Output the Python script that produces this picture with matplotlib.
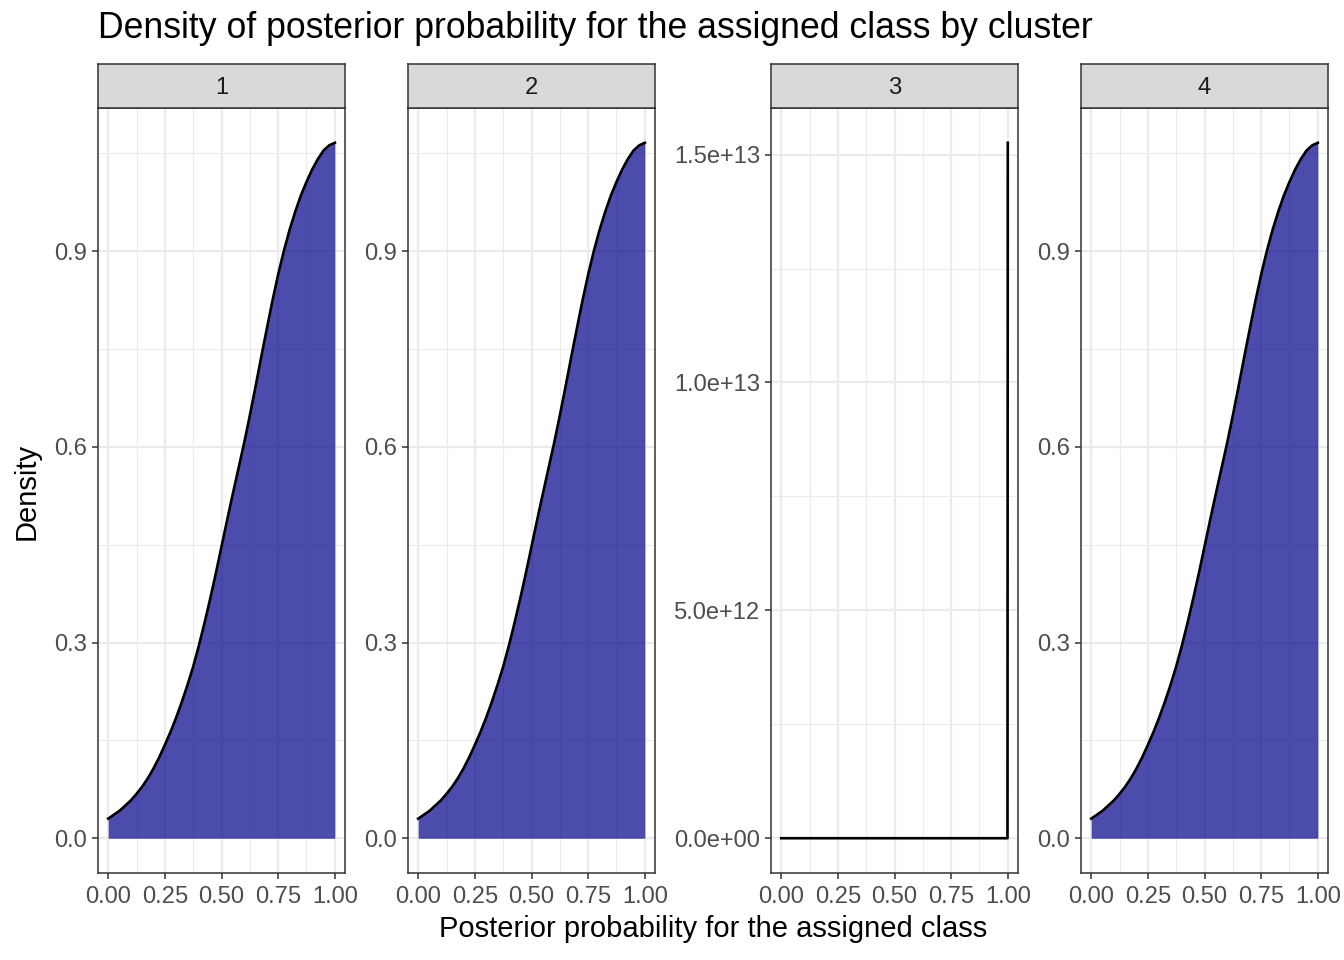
import matplotlib
matplotlib.use("Agg")
import matplotlib.pyplot as plt
import numpy as np
from matplotlib.ticker import FixedLocator

plt.rcParams['font.family'] = ['Liberation Sans', 'DejaVu Sans']

# ---- data ----
clusters = ["1", "2", "3", "4"]

x_density = [0.000, 0.025, 0.050, 0.075, 0.100, 0.125, 0.150, 0.175, 0.200, 0.225,
             0.250, 0.275, 0.300, 0.325, 0.350, 0.375, 0.400, 0.425, 0.450, 0.475,
             0.500, 0.525, 0.550, 0.575, 0.600, 0.625, 0.650, 0.675, 0.700, 0.725,
             0.750, 0.775, 0.800, 0.825, 0.850, 0.875, 0.900, 0.925, 0.950, 0.975, 1.000]
y_cluster1 = [0.030, 0.036, 0.042, 0.050, 0.058, 0.068, 0.079, 0.092, 0.107, 0.124,
              0.143, 0.163, 0.185, 0.209, 0.235, 0.263, 0.295, 0.330, 0.367, 0.406,
              0.447, 0.488, 0.528, 0.567, 0.606, 0.648, 0.692, 0.737, 0.781, 0.824,
              0.864, 0.900, 0.932, 0.960, 0.985, 1.006, 1.025, 1.041, 1.054, 1.062, 1.066]
y_cluster2 = list(y_cluster1)
y_cluster4 = list(y_cluster1)

x_cluster3 = [0.0, 0.9985, 1.0]
y_cluster3 = [0.0, 0.0, 1.526e13]

x_ticks = [0.0, 0.25, 0.5, 0.75, 1.0]
x_ticklabels = ["0.00", "0.25", "0.50", "0.75", "1.00"]
y_ticks_small = [0.0, 0.3, 0.6, 0.9]
y_ticklabels_small = ["0.0", "0.3", "0.6", "0.9"]
y_ticks_c3 = [0.0, 5.0e12, 1.0e13, 1.5e13]
y_ticklabels_c3 = ["0.0e+00", "5.0e+12", "1.0e+13", "1.5e+13"]

series = [
    (x_density, y_cluster1, y_ticks_small, y_ticklabels_small),
    (x_density, y_cluster2, y_ticks_small, y_ticklabels_small),
    (x_cluster3, y_cluster3, y_ticks_c3, y_ticklabels_c3),
    (x_density, y_cluster4, y_ticks_small, y_ticklabels_small),
]

W, H = 1344, 960
fig = plt.figure(figsize=(W / 100, H / 100), dpi=100)

panel_left = [98, 408, 771, 1081]
panel_w = 247
panel_top, panel_bot = 108, 873
strip_top = 64

grey20 = "#333333"
grey30 = "#4D4D4D"
grid_col = "#EBEBEB"

for i, (lab, (xs, ys, yt, ytl)) in enumerate(zip(clusters, series)):
    l = panel_left[i]
    ax = fig.add_axes([l / W, (H - panel_bot) / H, panel_w / W, (panel_bot - panel_top) / H])
    xs = np.asarray(xs); ys = np.asarray(ys)
    ax.fill_between(xs, 0, ys, color="#00008B", alpha=0.7, linewidth=0, zorder=2)
    ax.plot(xs, ys, color="black", linewidth=1.9, zorder=3, solid_joinstyle="round")
    ymax = ys.max()
    ax.set_xlim(-0.045, 1.045)
    ax.set_ylim(-0.05 * ymax, 1.05 * ymax)
    ax.set_xticks(x_ticks)
    ax.set_xticklabels(x_ticklabels)
    ax.set_yticks(yt)
    ax.set_yticklabels(ytl)
    xminor = [0.125, 0.375, 0.625, 0.875]
    ystep = yt[1] - yt[0]
    yminor = [v + ystep / 2 for v in yt]
    ax.xaxis.set_minor_locator(FixedLocator(xminor))
    ax.yaxis.set_minor_locator(FixedLocator(yminor))
    ax.grid(which="major", color=grid_col, linewidth=1.6, zorder=0)
    ax.grid(which="minor", color=grid_col, linewidth=0.8, zorder=0)
    ax.set_axisbelow(True)
    ax.tick_params(which="minor", length=0)
    ax.tick_params(which="major", length=4.5, width=1.1, color=grey20,
                   labelsize=17.1, labelcolor=grey30)
    ax.tick_params(axis="x", pad=5.0)
    ax.tick_params(axis="y", pad=3.5)
    for sp in ax.spines.values():
        sp.set_color(grey20)
        sp.set_linewidth(1.1)

    sax = fig.add_axes([l / W, (H - panel_top) / H, panel_w / W, (panel_top - strip_top) / H])
    sax.set_facecolor("#D9D9D9")
    sax.set_xticks([]); sax.set_yticks([])
    for sp in sax.spines.values():
        sp.set_color(grey20)
        sp.set_linewidth(1.1)
    sax.text(0.5, 0.46, lab, ha="center", va="center", fontsize=17.1, color="#1A1A1A",
             transform=sax.transAxes)

fig.text(98 / W, 1 - 29 / H, "Density of posterior probability for the assigned class by cluster",
         ha="left", va="center", fontsize=25.7, color="black")
fig.text(713 / W, 1 - 929 / H, "Posterior probability for the assigned class",
         ha="center", va="center", fontsize=21.0, color="black")
fig.text(27 / W, 1 - 491 / H, "Density", ha="center", va="center", rotation=90,
         fontsize=21.0, color="black")

fig.savefig("out.png", dpi=100, facecolor="white")
